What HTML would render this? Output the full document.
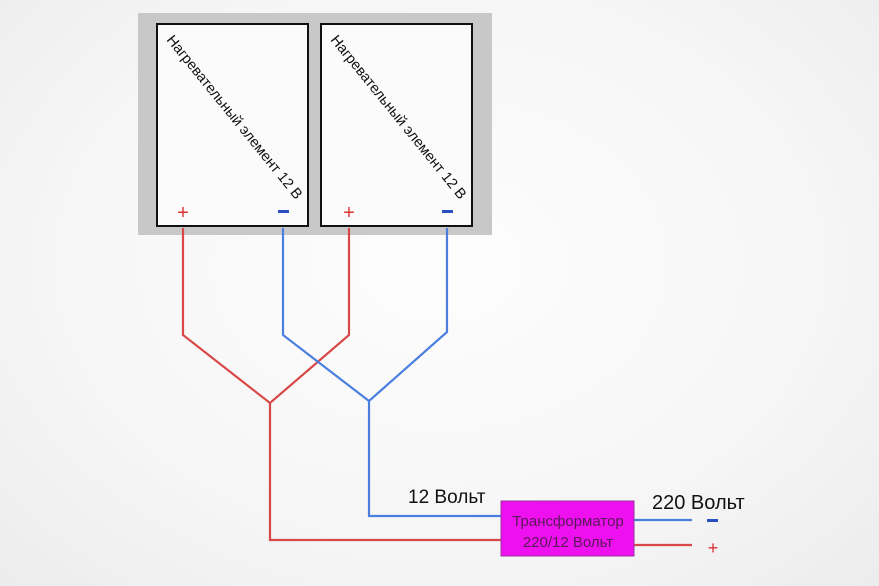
<!DOCTYPE html>
<html><head><meta charset="utf-8"><style>
html,body{margin:0;padding:0}
body{width:879px;height:586px;overflow:hidden;background:radial-gradient(ellipse at 50% 45%,#fdfdfd 0%,#f6f6f6 60%,#ececec 100%);font-family:"Liberation Sans","DejaVu Sans",sans-serif}
</style></head><body>
<svg width="879" height="586" xmlns="http://www.w3.org/2000/svg" style="position:absolute;left:0;top:0">
<rect x="138" y="13" width="354" height="222" fill="#c8c8c8"/>
<rect x="157" y="24" width="151" height="202" fill="#fbfbfb" stroke="#111" stroke-width="2"/>
<rect x="321" y="24" width="151" height="202" fill="#fbfbfb" stroke="#111" stroke-width="2"/>
<text transform="translate(166,40) rotate(51)" font-size="14.5" fill="#111">Нагревательный элемент 12 В</text>
<text transform="translate(330,40) rotate(51)" font-size="14.5" fill="#111">Нагревательный элемент 12 В</text>
<text x="183" y="219" font-size="20" fill="#d33" text-anchor="middle">+</text>
<text x="349" y="219" font-size="20" fill="#d33" text-anchor="middle">+</text>
<rect x="278" y="210" width="11" height="3" fill="#2a4fc0"/>
<rect x="442" y="210" width="11" height="3" fill="#2a4fc0"/>
<g fill="none" stroke-width="2.2">
<polyline stroke="#d94848" points="183,228 183,335 270,403 349,335 349,228"/>
<polyline stroke="#d94848" points="270,403 270,540 502,540"/>
<polyline stroke="#4a7fe0" points="283,228 283,335 369,401 447,332 447,228"/>
<polyline stroke="#4a7fe0" points="369,401 369,516 502,516"/>
<line stroke="#4a7fe0" x1="634" y1="520" x2="692" y2="520"/>
<line stroke="#d94848" x1="634" y1="545" x2="692" y2="545"/>
</g>
<rect x="501" y="501" width="133" height="55" fill="#ee10ee" stroke="#a030a0" stroke-width="1"/>
<text x="568" y="526" font-size="15" fill="#5a1a5a" text-anchor="middle">Трансформатор</text>
<text x="568" y="547" font-size="15" fill="#5a1a5a" text-anchor="middle">220/12 Вольт</text>
<text x="408" y="503" font-size="19" fill="#111">12 Вольт</text>
<text x="652" y="509" font-size="20" fill="#111">220 Вольт</text>
<rect x="707" y="519" width="11" height="3" fill="#2a4fc0"/>
<text x="713" y="554" font-size="18" fill="#d33" text-anchor="middle">+</text>
</svg>
</body></html>
